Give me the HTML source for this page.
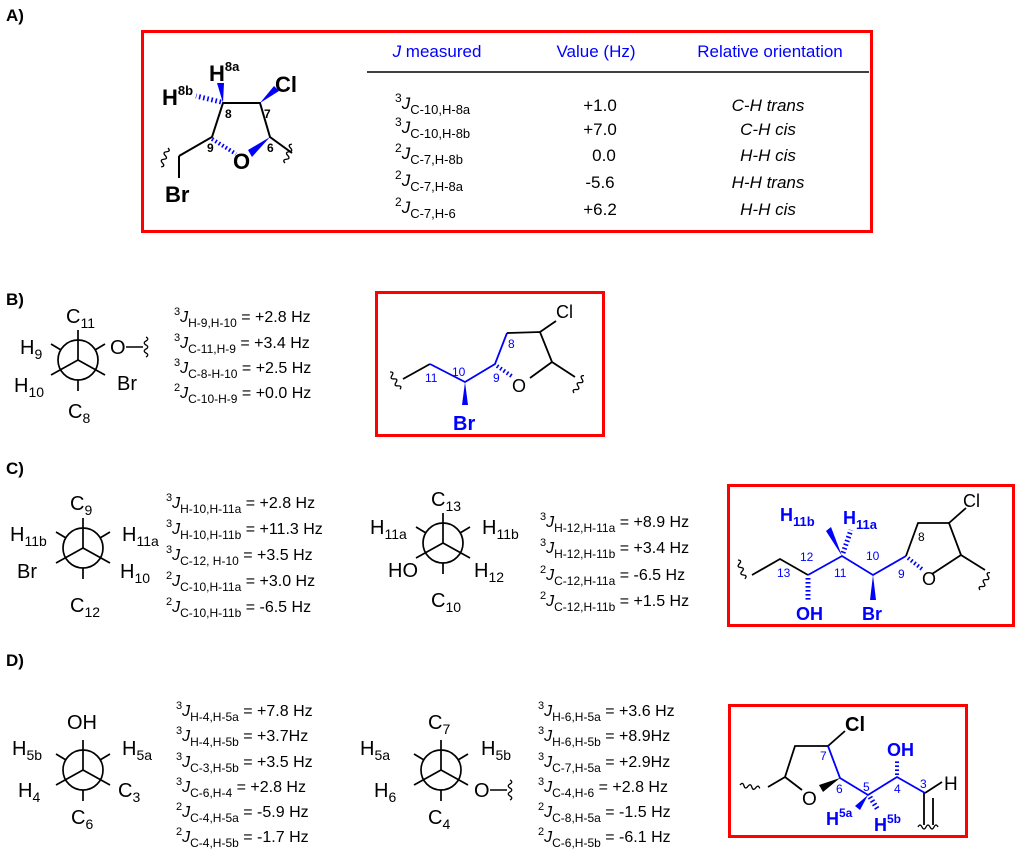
<!DOCTYPE html>
<html><head><meta charset="utf-8"><style>
html,body{margin:0;padding:0;background:#fff}
svg{display:block;font-family:"Liberation Sans",Arial,sans-serif}
.b{fill:#0000ff}.k{fill:#000}
</style></head><body>
<svg width="1024" height="852" viewBox="0 0 1024 852" xmlns="http://www.w3.org/2000/svg">
<defs>
<g id="nw" fill="none" stroke="#000" stroke-width="1.7">
<circle r="20"/>
<line x1="0" y1="0" x2="0" y2="-30"/>
<line x1="0" y1="0" x2="-27" y2="15"/>
<line x1="0" y1="0" x2="27" y2="15"/>
<line x1="-17" y1="-10" x2="-27" y2="-16"/>
<line x1="17" y1="-10" x2="27" y2="-16"/>
<line x1="0" y1="20" x2="0" y2="31"/>
</g>
<path id="wv" d="M0,0 q2,-4 4,0 t4,0 t4,0 t4,0 t4,0" fill="none" stroke="#000" stroke-width="1.3"/>
</defs>

<!-- section labels -->
<g font-weight="bold" font-size="17">
<text x="6" y="21">A)</text><text x="6" y="305">B)</text><text x="6" y="474">C)</text><text x="6" y="666">D)</text>
</g>

<!-- ============ A ============ -->
<rect x="142.5" y="31.5" width="729" height="200" fill="none" stroke="#ff0000" stroke-width="3"/>
<g font-size="17" class="b" text-anchor="middle">
<text x="437" y="57"><tspan font-style="italic">J</tspan> measured</text>
<text x="596" y="57">Value (Hz)</text>
<text x="770" y="57">Relative orientation</text>
</g>
<line x1="367" y1="72" x2="869" y2="72" stroke="#000" stroke-width="1.5"/>
<g font-size="17">
<text x="395" y="109"><tspan font-size="12" dy="-7">3</tspan><tspan font-style="italic" dy="7">J</tspan><tspan font-size="13" dy="5">C-10,H-8a</tspan></text>
<text x="395" y="133"><tspan font-size="12" dy="-7">3</tspan><tspan font-style="italic" dy="7">J</tspan><tspan font-size="13" dy="5">C-10,H-8b</tspan></text>
<text x="395" y="159"><tspan font-size="12" dy="-7">2</tspan><tspan font-style="italic" dy="7">J</tspan><tspan font-size="13" dy="5">C-7,H-8b</tspan></text>
<text x="395" y="186"><tspan font-size="12" dy="-7">2</tspan><tspan font-style="italic" dy="7">J</tspan><tspan font-size="13" dy="5">C-7,H-8a</tspan></text>
<text x="395" y="213"><tspan font-size="12" dy="-7">2</tspan><tspan font-style="italic" dy="7">J</tspan><tspan font-size="13" dy="5">C-7,H-6</tspan></text>
</g>
<g font-size="17" text-anchor="middle">
<text x="600" y="111">+1.0</text><text x="600" y="135">+7.0</text><text x="604" y="161">0.0</text><text x="600" y="188">-5.6</text><text x="600" y="215">+6.2</text>
</g>
<g font-size="17" text-anchor="middle" font-style="italic">
<text x="768" y="111">C-H trans</text><text x="768" y="135">C-H cis</text><text x="768" y="161">H-H cis</text><text x="768" y="188">H-H trans</text><text x="768" y="215">H-H cis</text>
</g>
<!-- molecule A -->
<g stroke="#000" stroke-width="2" fill="none">
<polyline points="179,156 212,137 223,103 260,103 270,137 292,153"/>
<line x1="179" y1="156" x2="179" y2="178"/>
</g>
<line x1="212" y1="139" x2="236" y2="154" stroke="#0000ff" stroke-width="4" stroke-dasharray="1.6,2.4"/>
<polygon points="270,137 248,150 252,157" fill="#0000ff"/>
<polygon points="260,103 274,86 279,91" fill="#0000ff"/>
<polygon points="223,103 217,83 224,83" fill="#0000ff"/>
<line x1="221" y1="102" x2="196" y2="96" stroke="#0000ff" stroke-width="5" stroke-dasharray="1.6,2.6"/>
<use href="#wv" transform="translate(168,148) rotate(110)"/>
<use href="#wv" transform="translate(285,163) rotate(-70)"/>
<g font-weight="bold" font-size="22">
<text x="233" y="169">O</text>
<text x="165" y="202">Br</text>
<text x="275" y="92">Cl</text>
<text x="209" y="81">H<tspan font-size="13" dy="-10">8a</tspan></text>
<text x="162" y="105">H<tspan font-size="13" dy="-10">8b</tspan></text>
</g>
<g font-size="12" font-weight="bold"><text x="225" y="118">8</text><text x="264" y="118">7</text><text x="207" y="152">9</text><text x="267" y="152">6</text></g>

<!-- ============ B ============ -->
<use href="#nw" x="78" y="360"/>
<g font-size="20">
<text x="66" y="323">C<tspan font-size="14" dy="5">11</tspan></text>
<text x="20" y="354">H<tspan font-size="14" dy="5">9</tspan></text>
<text x="110" y="354">O</text>
<text x="14" y="392">H<tspan font-size="14" dy="5">10</tspan></text>
<text x="117" y="390">Br</text>
<text x="68" y="418">C<tspan font-size="14" dy="5">8</tspan></text>
</g>
<line x1="126" y1="347" x2="143" y2="347" stroke="#000" stroke-width="1.5"/>
<use href="#wv" transform="translate(146,337) rotate(90) scale(1,0.9)"/>
<g font-size="16">
<text x="174" y="322"><tspan font-size="11" dy="-7">3</tspan><tspan font-style="italic" dy="7">J</tspan><tspan font-size="12" dy="5">H-9,H-10</tspan><tspan dy="-5"> = +2.8 Hz</tspan></text>
<text x="174" y="348"><tspan font-size="11" dy="-7">3</tspan><tspan font-style="italic" dy="7">J</tspan><tspan font-size="12" dy="5">C-11,H-9</tspan><tspan dy="-5"> = +3.4 Hz</tspan></text>
<text x="174" y="373"><tspan font-size="11" dy="-7">3</tspan><tspan font-style="italic" dy="7">J</tspan><tspan font-size="12" dy="5">C-8-H-10</tspan><tspan dy="-5"> = +2.5 Hz</tspan></text>
<text x="174" y="398"><tspan font-size="11" dy="-7">2</tspan><tspan font-style="italic" dy="7">J</tspan><tspan font-size="12" dy="5">C-10-H-9</tspan><tspan dy="-5"> = +0.0 Hz</tspan></text>
</g>
<rect x="376.5" y="292.5" width="227" height="143" fill="none" stroke="#ff0000" stroke-width="3"/>
<g fill="none" stroke-width="1.8">
<polyline points="403,379 430,364" stroke="#000"/>
<polyline points="430,364 465,382 495,364 507,333" stroke="#0000ff"/>
<polyline points="507,333 540,332 552,362 575,377" stroke="#000"/>
<line x1="540" y1="332" x2="556" y2="321" stroke="#000"/>
<line x1="530" y1="378" x2="552" y2="362" stroke="#000"/>
</g>
<line x1="497" y1="366" x2="513" y2="377" stroke="#0000ff" stroke-width="4" stroke-dasharray="1.6,2.4"/>
<polygon points="465,382 462,405 468,405" fill="#0000ff"/>
<use href="#wv" transform="translate(390,372) rotate(60)"/>
<use href="#wv" transform="translate(574,393) rotate(-60)"/>
<text x="512" y="392" font-size="18">O</text>
<text x="556" y="318" font-size="18">Cl</text>
<text x="453" y="430" font-size="20" font-weight="bold" class="b">Br</text>
<g font-size="12" class="b"><text x="425" y="382">11</text><text x="452" y="376">10</text><text x="493" y="382">9</text><text x="508" y="348">8</text></g>

<!-- ============ C ============ -->
<use href="#nw" x="83" y="548"/>
<g font-size="20">
<text x="70" y="510">C<tspan font-size="14" dy="5">9</tspan></text>
<text x="10" y="541">H<tspan font-size="14" dy="5">11b</tspan></text>
<text x="122" y="541">H<tspan font-size="14" dy="5">11a</tspan></text>
<text x="17" y="578">Br</text>
<text x="120" y="578">H<tspan font-size="14" dy="5">10</tspan></text>
<text x="70" y="612">C<tspan font-size="14" dy="5">12</tspan></text>
</g>
<g font-size="16">
<text x="166" y="508"><tspan font-size="11" dy="-7">3</tspan><tspan font-style="italic" dy="7">J</tspan><tspan font-size="12" dy="5">H-10,H-11a</tspan><tspan dy="-5"> = +2.8 Hz</tspan></text>
<text x="166" y="534"><tspan font-size="11" dy="-7">3</tspan><tspan font-style="italic" dy="7">J</tspan><tspan font-size="12" dy="5">H-10,H-11b</tspan><tspan dy="-5"> = +11.3 Hz</tspan></text>
<text x="166" y="560"><tspan font-size="11" dy="-7">3</tspan><tspan font-style="italic" dy="7">J</tspan><tspan font-size="12" dy="5">C-12, H-10</tspan><tspan dy="-5">  = +3.5 Hz</tspan></text>
<text x="166" y="586"><tspan font-size="11" dy="-7">2</tspan><tspan font-style="italic" dy="7">J</tspan><tspan font-size="12" dy="5">C-10,H-11a</tspan><tspan dy="-5"> = +3.0 Hz</tspan></text>
<text x="166" y="612"><tspan font-size="11" dy="-7">2</tspan><tspan font-style="italic" dy="7">J</tspan><tspan font-size="12" dy="5">C-10,H-11b</tspan><tspan dy="-5"> = -6.5 Hz</tspan></text>
</g>
<use href="#nw" x="443" y="543"/>
<g font-size="20">
<text x="431" y="506">C<tspan font-size="14" dy="5">13</tspan></text>
<text x="370" y="534">H<tspan font-size="14" dy="5">11a</tspan></text>
<text x="482" y="534">H<tspan font-size="14" dy="5">11b</tspan></text>
<text x="388" y="577">HO</text>
<text x="474" y="577">H<tspan font-size="14" dy="5">12</tspan></text>
<text x="431" y="607">C<tspan font-size="14" dy="5">10</tspan></text>
</g>
<g font-size="16">
<text x="540" y="527"><tspan font-size="11" dy="-7">3</tspan><tspan font-style="italic" dy="7">J</tspan><tspan font-size="12" dy="5">H-12,H-11a</tspan><tspan dy="-5"> = +8.9 Hz</tspan></text>
<text x="540" y="553"><tspan font-size="11" dy="-7">3</tspan><tspan font-style="italic" dy="7">J</tspan><tspan font-size="12" dy="5">H-12,H-11b</tspan><tspan dy="-5"> = +3.4 Hz</tspan></text>
<text x="540" y="580"><tspan font-size="11" dy="-7">2</tspan><tspan font-style="italic" dy="7">J</tspan><tspan font-size="12" dy="5">C-12,H-11a</tspan><tspan dy="-5"> = -6.5 Hz</tspan></text>
<text x="540" y="606"><tspan font-size="11" dy="-7">2</tspan><tspan font-style="italic" dy="7">J</tspan><tspan font-size="12" dy="5">C-12,H-11b</tspan><tspan dy="-5"> = +1.5 Hz</tspan></text>
</g>
<rect x="728.5" y="485.5" width="285" height="140" fill="none" stroke="#ff0000" stroke-width="3"/>
<g fill="none" stroke-width="1.8">
<polyline points="752,575 780,559 808,575" stroke="#000"/>
<polyline points="808,575 842,556 873,575 906,556" stroke="#0000ff"/>
<polyline points="906,556 918,523 949,523 961,555 985,570" stroke="#000"/>
<line x1="949" y1="523" x2="966" y2="508" stroke="#000"/>
<line x1="932" y1="574" x2="961" y2="555" stroke="#000"/>
</g>
<line x1="908" y1="558" x2="922" y2="569" stroke="#0000ff" stroke-width="4" stroke-dasharray="1.6,2.4"/>
<line x1="808" y1="578" x2="808" y2="600" stroke="#0000ff" stroke-width="5" stroke-dasharray="1.6,2.4"/>
<polygon points="873,575 870,600 876,600" fill="#0000ff"/>
<polygon points="842,556 826,531 831,527" fill="#0000ff"/>
<line x1="843" y1="553" x2="851" y2="530" stroke="#0000ff" stroke-width="5" stroke-dasharray="1.6,2.4"/>
<use href="#wv" transform="translate(738,560) rotate(70)"/>
<use href="#wv" transform="translate(980,590) rotate(-60)"/>
<text x="922" y="585" font-size="18">O</text>
<text x="963" y="507" font-size="18">Cl</text>
<g font-size="18" font-weight="bold" class="b">
<text x="796" y="620">OH</text>
<text x="862" y="620">Br</text>
<text x="780" y="521">H<tspan font-size="13" dy="5">11b</tspan></text>
<text x="843" y="524">H<tspan font-size="13" dy="5">11a</tspan></text>
</g>
<g font-size="12" class="b"><text x="777" y="577">13</text><text x="800" y="561">12</text><text x="834" y="577">11</text><text x="866" y="560">10</text><text x="898" y="578">9</text></g>
<text x="918" y="541" font-size="12">8</text>

<!-- ============ D ============ -->
<use href="#nw" x="83" y="770"/>
<g font-size="20">
<text x="67" y="729">OH</text>
<text x="12" y="755">H<tspan font-size="14" dy="5">5b</tspan></text>
<text x="122" y="755">H<tspan font-size="14" dy="5">5a</tspan></text>
<text x="18" y="797">H<tspan font-size="14" dy="5">4</tspan></text>
<text x="118" y="797">C<tspan font-size="14" dy="5">3</tspan></text>
<text x="71" y="824">C<tspan font-size="14" dy="5">6</tspan></text>
</g>
<g font-size="16">
<text x="176" y="716"><tspan font-size="11" dy="-7">3</tspan><tspan font-style="italic" dy="7">J</tspan><tspan font-size="12" dy="5">H-4,H-5a</tspan><tspan dy="-5"> = +7.8 Hz</tspan></text>
<text x="176" y="741"><tspan font-size="11" dy="-7">3</tspan><tspan font-style="italic" dy="7">J</tspan><tspan font-size="12" dy="5">H-4,H-5b</tspan><tspan dy="-5"> = +3.7Hz</tspan></text>
<text x="176" y="767"><tspan font-size="11" dy="-7">3</tspan><tspan font-style="italic" dy="7">J</tspan><tspan font-size="12" dy="5">C-3,H-5b</tspan><tspan dy="-5"> = +3.5 Hz</tspan></text>
<text x="176" y="792"><tspan font-size="11" dy="-7">3</tspan><tspan font-style="italic" dy="7">J</tspan><tspan font-size="12" dy="5">C-6,H-4</tspan><tspan dy="-5">  = +2.8 Hz</tspan></text>
<text x="176" y="817"><tspan font-size="11" dy="-7">2</tspan><tspan font-style="italic" dy="7">J</tspan><tspan font-size="12" dy="5">C-4,H-5a</tspan><tspan dy="-5"> = -5.9 Hz</tspan></text>
<text x="176" y="842"><tspan font-size="11" dy="-7">2</tspan><tspan font-style="italic" dy="7">J</tspan><tspan font-size="12" dy="5">C-4,H-5b</tspan><tspan dy="-5"> = -1.7 Hz</tspan></text>
</g>
<use href="#nw" x="441" y="770"/>
<g font-size="20">
<text x="428" y="729">C<tspan font-size="14" dy="5">7</tspan></text>
<text x="360" y="755">H<tspan font-size="14" dy="5">5a</tspan></text>
<text x="481" y="755">H<tspan font-size="14" dy="5">5b</tspan></text>
<text x="374" y="797">H<tspan font-size="14" dy="5">6</tspan></text>
<text x="474" y="797">O</text>
<text x="428" y="824">C<tspan font-size="14" dy="5">4</tspan></text>
</g>
<line x1="490" y1="790" x2="507" y2="790" stroke="#000" stroke-width="1.5"/>
<use href="#wv" transform="translate(510,780) rotate(90) scale(1,0.9)"/>
<g font-size="16">
<text x="538" y="716"><tspan font-size="11" dy="-7">3</tspan><tspan font-style="italic" dy="7">J</tspan><tspan font-size="12" dy="5">H-6,H-5a</tspan><tspan dy="-5"> = +3.6 Hz</tspan></text>
<text x="538" y="741"><tspan font-size="11" dy="-7">3</tspan><tspan font-style="italic" dy="7">J</tspan><tspan font-size="12" dy="5">H-6,H-5b</tspan><tspan dy="-5"> = +8.9Hz</tspan></text>
<text x="538" y="767"><tspan font-size="11" dy="-7">3</tspan><tspan font-style="italic" dy="7">J</tspan><tspan font-size="12" dy="5">C-7,H-5a</tspan><tspan dy="-5"> = +2.9Hz</tspan></text>
<text x="538" y="792"><tspan font-size="11" dy="-7">3</tspan><tspan font-style="italic" dy="7">J</tspan><tspan font-size="12" dy="5">C-4,H-6</tspan><tspan dy="-5">  = +2.8 Hz</tspan></text>
<text x="538" y="817"><tspan font-size="11" dy="-7">2</tspan><tspan font-style="italic" dy="7">J</tspan><tspan font-size="12" dy="5">C-8,H-5a</tspan><tspan dy="-5"> = -1.5 Hz</tspan></text>
<text x="538" y="842"><tspan font-size="11" dy="-7">2</tspan><tspan font-style="italic" dy="7">J</tspan><tspan font-size="12" dy="5">C-6,H-5b</tspan><tspan dy="-5"> = -6.1 Hz</tspan></text>
</g>
<rect x="729.5" y="705.5" width="237" height="131" fill="none" stroke="#ff0000" stroke-width="3"/>
<g fill="none" stroke-width="1.8">
<polyline points="768,787 785,777 795,746 828,746" stroke="#000"/>
<line x1="785" y1="777" x2="802" y2="790" stroke="#000"/>
<line x1="828" y1="746" x2="845" y2="731" stroke="#000"/>
<polyline points="828,746 840,778 868,795 897,777 925,793" stroke="#0000ff"/>
<line x1="925" y1="793" x2="942" y2="782" stroke="#000"/>
<line x1="924" y1="793" x2="924" y2="825" stroke="#000"/>
<line x1="933" y1="798" x2="933" y2="825" stroke="#000"/>
</g>
<polygon points="840,778 819,785 823,792" fill="#000"/>
<polygon points="868,795 855,806 860,810" fill="#0000ff"/>
<line x1="870" y1="797" x2="878" y2="810" stroke="#0000ff" stroke-width="5" stroke-dasharray="1.6,2.4"/>
<line x1="897" y1="775" x2="897" y2="760" stroke="#0000ff" stroke-width="4" stroke-dasharray="1.6,2.4"/>
<use href="#wv" transform="translate(740,785) rotate(10)"/>
<use href="#wv" transform="translate(918,827)"/>
<text x="802" y="805" font-size="19">O</text>
<text x="845" y="731" font-size="20" font-weight="bold">Cl</text>
<text x="944" y="790" font-size="19">H</text>
<g font-size="18" font-weight="bold" class="b">
<text x="887" y="756">OH</text>
<text x="826" y="825">H<tspan font-size="12" dy="-8">5a</tspan></text>
<text x="874" y="831">H<tspan font-size="12" dy="-8">5b</tspan></text>
</g>
<g font-size="12" class="b"><text x="820" y="760">7</text><text x="836" y="793">6</text><text x="863" y="791">5</text><text x="894" y="793">4</text><text x="920" y="788">3</text></g>
</svg>
</body></html>
